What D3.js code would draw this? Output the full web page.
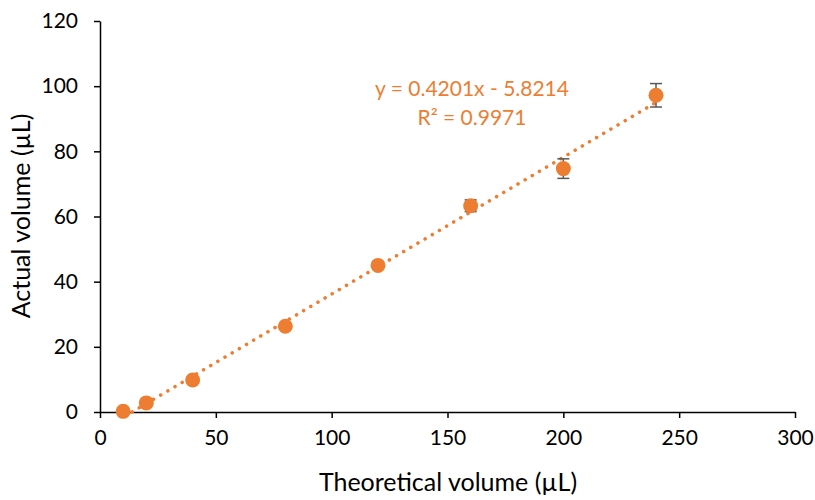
<!DOCTYPE html>
<html><head><meta charset="utf-8">
<script src="https://cdn.jsdelivr.net/npm/d3@7"></script>
<style>body{margin:0;background:#fff}svg{display:block}text{font-family:Lato,"Open Sans",sans-serif}</style>
</head><body>
<svg id="c" width="815" height="500"></svg>
<script>
const theoretical = [10, 20, 40, 80, 120, 160, 200, 240];
const actual = [0.2, 2.8, 9.8, 26.3, 45.0, 63.3, 74.7, 97.2];
const errors = [0.3, 0.4, 0.5, 0.6, 1.0, 1.8, 3.0, 3.6];
const xTicks = [0, 50, 100, 150, 200, 250, 300];
const yTicks = [0, 20, 40, 60, 80, 100, 120];
const slope = 0.4201, intercept = -5.8214;
const eqLabel = "y = 0.4201x - 5.8214";
const r2Label = "R² = 0.9971";
const xTitle = "Theoretical volume (µL)";
const yTitle = "Actual volume (µL)";

const orange = "#ED7D31";
const svg = d3.select("#c");
const x = d3.scaleLinear().domain([0, 300]).range([100, 795]);
const y = d3.scaleLinear().domain([0, 120]).range([412, 21]);

const xAxis = svg.append("g").attr("transform", "translate(0,412)")
  .call(d3.axisBottom(x).tickValues(xTicks).tickSize(6).tickSizeOuter(0).tickPadding(12));
const yAxis = svg.append("g").attr("transform", "translate(100,0)")
  .call(d3.axisLeft(y).tickValues(yTicks).tickSize(6).tickSizeOuter(0).tickPadding(10));
[xAxis, yAxis].forEach(g => {
  g.select(".domain").attr("stroke", "#000").attr("stroke-width", 1.5);
  g.selectAll(".tick line").attr("stroke", "#000").attr("stroke-width", 1.5);
  g.selectAll(".tick text").attr("font-size", 21).attr("fill", "#000")
    .style("font-family", "Lato, 'Open Sans', sans-serif");
});
yAxis.selectAll(".tick text").attr("dx", "-6");

// trendline
const clipY0 = (0 - intercept) / slope;
const tx0 = Math.max(theoretical[0], clipY0), tx1 = theoretical[theoretical.length - 1];
svg.append("line")
  .attr("x1", x(tx0)).attr("y1", y(slope * tx0 + intercept))
  .attr("x2", x(tx1)).attr("y2", y(slope * tx1 + intercept))
  .attr("stroke", orange).attr("stroke-width", 3.5)
  .attr("stroke-linecap", "round").attr("stroke-dasharray", "0.1,8.2");

// error bars
const eb = svg.append("g").attr("stroke", "#595959").attr("stroke-width", 1.5);
theoretical.forEach((t, i) => {
  const cx = x(t), top = y(actual[i] + errors[i]), bot = y(actual[i] - errors[i]);
  eb.append("line").attr("x1", cx).attr("x2", cx).attr("y1", top).attr("y2", bot);
  eb.append("line").attr("x1", cx - 6).attr("x2", cx + 6).attr("y1", top).attr("y2", top);
  eb.append("line").attr("x1", cx - 6).attr("x2", cx + 6).attr("y1", bot).attr("y2", bot);
});

// points
svg.append("g").selectAll("circle").data(theoretical).join("circle")
  .attr("cx", d => x(d)).attr("cy", (d, i) => y(actual[i]))
  .attr("r", 7.5).attr("fill", orange);

// equation
svg.append("text").attr("x", 472).attr("y", 96).attr("text-anchor", "middle")
  .attr("font-size", 21).attr("fill", orange).text(eqLabel);
svg.append("text").attr("x", 472).attr("y", 125).attr("text-anchor", "middle")
  .attr("font-size", 21).attr("fill", orange).text(r2Label);

// titles
svg.append("text").attr("x", 448).attr("y", 491).attr("text-anchor", "middle")
  .attr("font-size", 25).attr("fill", "#000").text(xTitle);
svg.append("text").attr("transform", "translate(30,216) rotate(-90)").attr("text-anchor", "middle")
  .attr("font-size", 25).attr("fill", "#000").text(yTitle);
</script>
</body></html>
